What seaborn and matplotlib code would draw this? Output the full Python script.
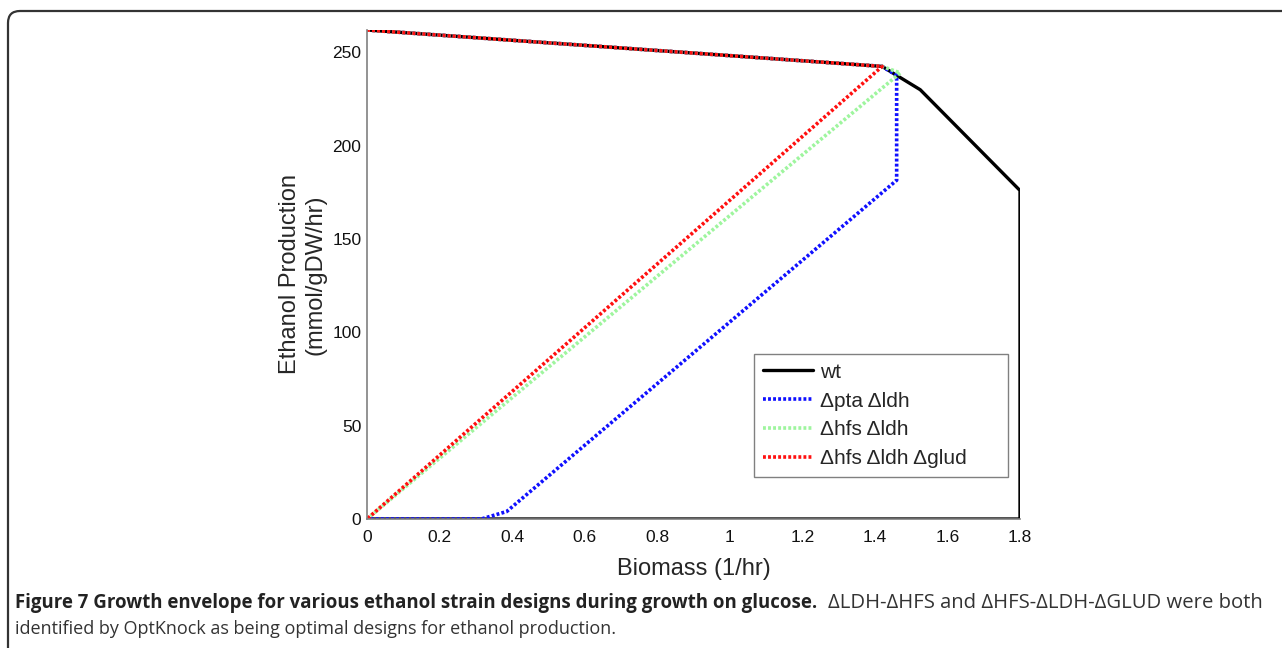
import numpy as np
import pandas as pd
import matplotlib
matplotlib.use("Agg")
import matplotlib.pyplot as plt
import seaborn as sns
from matplotlib.patches import FancyBboxPatch
from matplotlib.transforms import IdentityTransform

# ---- data ----
wt_x = [0.0, 1.42, 1.46, 1.525, 1.80, 1.80, 0.0]
wt_y = [262.0, 242.5, 237.7, 230.0, 176.0, 0.0, 0.0]

pta_x = [0.0, 1.42, 1.46, 1.46, 0.385, 0.315, 0.0]
pta_y = [262.0, 242.5, 237.7, 181.5, 4.0, 0.0, 0.0]

hfs_x = [0.0, 1.42, 1.47, 0.0]
hfs_y = [262.0, 242.5, 239.0, 0.0]

glud_x = [0.0, 1.42, 0.0]
glud_y = [262.0, 242.5, 0.0]

labels = ["wt", "Δpta Δldh", "Δhfs Δldh", "Δhfs Δldh Δglud"]
x_ticks = [0, 0.2, 0.4, 0.6, 0.8, 1.0, 1.2, 1.4, 1.6, 1.8]
x_ticklabels = ["0", "0.2", "0.4", "0.6", "0.8", "1", "1.2", "1.4", "1.6", "1.8"]
y_ticks = [0, 50, 100, 150, 200, 250]

sns.set_style("white")
plt.rcParams["font.family"] = ["Liberation Sans", "DejaVu Sans"]

fig = plt.figure(figsize=(12.82, 6.48), dpi=100)
ax = fig.add_axes([367/1282, 1-519/648, (1020-367)/1282, (519-30)/648])

styles = [
    (wt_x, wt_y, labels[0], "black", "-", 2.4),
    (pta_x, pta_y, labels[1], "#1010ff", (0, (0.8, 0.6)), 2.6),
    (hfs_x, hfs_y, labels[2], "#9ef59e", (0, (0.8, 0.6)), 2.6),
    (glud_x, glud_y, labels[3], "#ff1010", (0, (0.8, 0.6)), 2.6),
]
for xs, ys, lab, col, ls, lw in styles:
    df = pd.DataFrame({"x": xs, "y": ys})
    sns.lineplot(data=df, x="x", y="y", sort=False, estimator=None, ax=ax,
                 color=col, linestyle=ls, linewidth=lw, label=lab,
                 solid_joinstyle="miter", dash_capstyle="butt")

ax.set_xlim(0, 1.8)
ax.set_ylim(0, 262)
ax.set_xticks(x_ticks)
ax.set_xticklabels(x_ticklabels)
ax.set_yticks(y_ticks)
ax.tick_params(direction="in", length=5, width=1, color="#555555",
               labelsize=12.5, labelcolor="#111111", pad=4)
ax.tick_params(axis="x", pad=8)
for s in ["top", "right"]:
    ax.spines[s].set_visible(False)
for s in ["left", "bottom"]:
    ax.spines[s].set_color("#808080")
    ax.spines[s].set_linewidth(1.2)
ax.set_xlabel("Biomass (1/hr)", fontsize=17, labelpad=9)
ax.set_ylabel("Ethanol Production\n(mmol/gDW/hr)", fontsize=17, labelpad=4,
              linespacing=1.2)

lx0 = (754-367)/653
ly1 = (519-354)/489
lw_ = (1008-754)/653
lh_ = (477-354)/489
leg = ax.legend(loc="upper left", bbox_to_anchor=(lx0, ly1 - lh_, lw_, lh_),
                mode="expand",
                fontsize=15, frameon=True, fancybox=False, edgecolor="#808080",
                handlelength=2.4, handletextpad=0.35, labelspacing=0.47,
                borderpad=0.42, borderaxespad=0)
leg.get_frame().set_linewidth(1.0)
leg.get_frame().set_facecolor("white")
leg.get_frame().set_alpha(1)

# figure border
border = FancyBboxPatch((8, -60), 1400, 648 - 11 + 60,
                        boxstyle="round,pad=0,rounding_size=12",
                        transform=IdentityTransform(), fill=False,
                        edgecolor="#333333", linewidth=1.6)
fig.patches.append(border)

# caption
cap_font = ["Open Sans", "DejaVu Sans"]
t1 = fig.text(15/1282, 1-608/648,
              "Figure 7 Growth envelope for various ethanol strain designs during growth on glucose.",
              fontsize=13.45, fontweight="bold", family=cap_font, color="#222222",
              va="baseline")
t2 = fig.text(828/1282, 1-608/648, "ΔLDH-ΔHFS and ΔHFS-ΔLDH-ΔGLUD were both",
              fontsize=14.6, family=cap_font, color="#333333", va="baseline")
fig.text(15/1282, 1-634/648,
         "identified by OptKnock as being optimal designs for ethanol production.",
         fontsize=13, family=cap_font, color="#333333", va="baseline")

fig.savefig("out.png", dpi=100)
